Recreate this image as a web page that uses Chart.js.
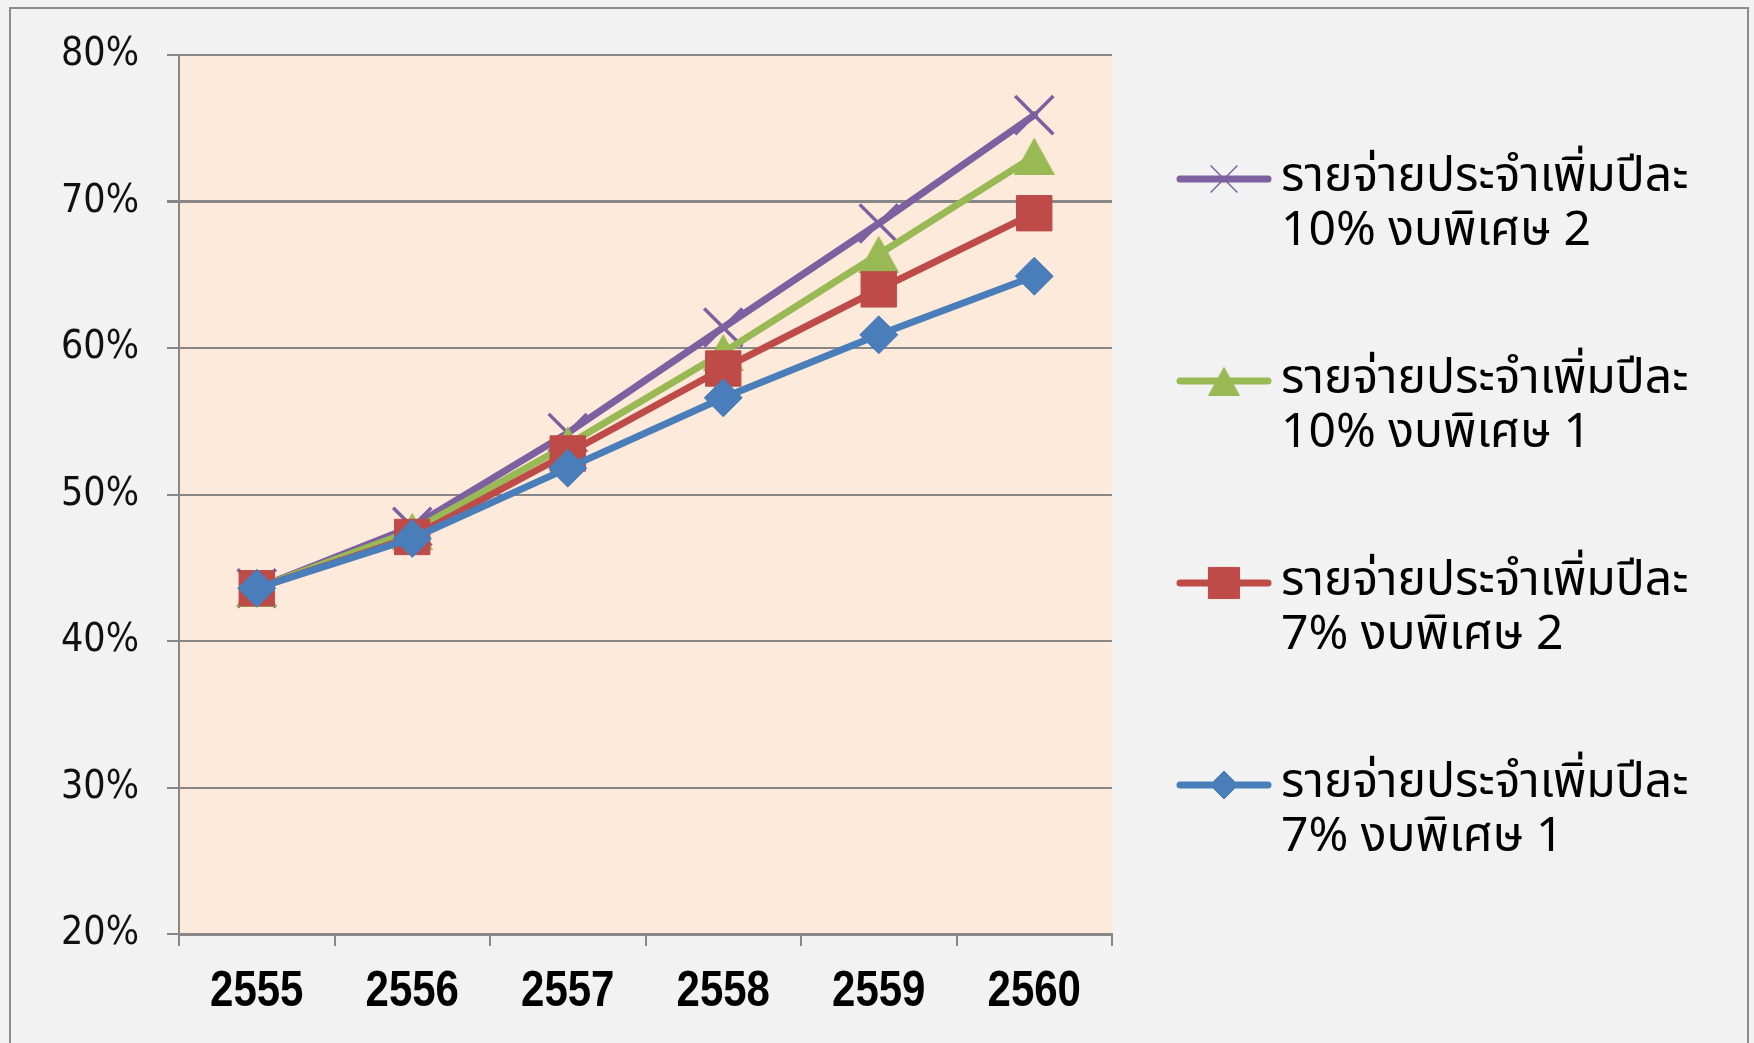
<!DOCTYPE html>
<html>
<head>
<meta charset="utf-8">
<script src="https://cdn.jsdelivr.net/npm/chart.js@4.4.1/dist/chart.umd.min.js"></script>
<style>
  html, body { margin: 0; padding: 0; background: #f2f2f2; overflow: hidden; }
  #wrap { width: 1754px; height: 1043px; }
</style>
</head>
<body>
<div id="wrap"><canvas id="c" width="1754" height="1043"></canvas></div>
<script>
// Fiscal years (Thai Buddhist era)
const years = ['2555', '2556', '2557', '2558', '2559', '2560'];
// Y axis range and step (percent)
const yMin = 20;
const yMax = 80;
const yStep = 10;

// Share of regular expenditure (%) under four scenarios
const rise7Budget1 = [43.6, 47.0, 51.8, 56.6, 60.9, 64.9];
const rise7Budget2 = [43.6, 47.1, 52.8, 58.6, 64.0, 69.2];
const rise10Budget1 = [43.6, 47.5, 53.4, 59.7, 66.4, 73.1];
const rise10Budget2 = [43.6, 47.8, 54.2, 61.4, 68.5, 75.9];

// Legend text, two lines per scenario
const name7Budget1 = ['รายจ่ายประจำเพิ่มปีละ', '7% งบพิเศษ 1'];
const name7Budget2 = ['รายจ่ายประจำเพิ่มปีละ', '7% งบพิเศษ 2'];
const name10Budget1 = ['รายจ่ายประจำเพิ่มปีละ', '10% งบพิเศษ 1'];
const name10Budget2 = ['รายจ่ายประจำเพิ่มปีละ', '10% งบพิเศษ 2'];

const GRID = '#878787';
const PLOT_BG = '#fdeadb';
const THAI_FONT = "Tahoma, 'Noto Sans Thai', 'Noto Sans', 'DejaVu Sans', sans-serif";
const C_BLUE = '#4a7ebb', C_RED = '#be4b48', C_GREEN = '#98b954', C_PURPLE = '#7d60a0';

// Triangle marker centred on its bounding box (apex up)
function triangleMarker(w, h, color) {
  const cv = document.createElement('canvas');
  cv.width = w; cv.height = h;
  const g = cv.getContext('2d');
  g.fillStyle = color;
  g.beginPath();
  g.moveTo(w / 2, 0);
  g.lineTo(w, h);
  g.lineTo(0, h);
  g.closePath();
  g.fill();
  return cv;
}
const triBig = triangleMarker(41, 37, C_GREEN);
const triSmall = triangleMarker(32, 29, C_GREEN);

// Page background, outer frame and plot-area fill
const backdrop = {
  id: 'backdrop',
  beforeDraw(chart) {
    const { ctx, chartArea: a } = chart;
    ctx.save();
    ctx.fillStyle = '#f2f2f2';
    ctx.fillRect(0, 0, chart.width, chart.height);
    ctx.strokeStyle = '#8c8c8c';
    ctx.lineWidth = 2;
    ctx.strokeRect(10, 8, 1738, 1060);
    ctx.fillStyle = PLOT_BG;
    ctx.fillRect(a.left, a.top, a.right - a.left, a.bottom - a.top);
    ctx.restore();
  }
};

// Year labels under the category axis, in a narrow bold face
const yearLabels = {
  id: 'yearLabels',
  afterDraw(chart) {
    const ctx = chart.ctx;
    const xs = chart.scales.x;
    ctx.save();
    ctx.fillStyle = '#000';
    ctx.font = "bold 50px 'Liberation Sans', Arial, sans-serif";
    ctx.textAlign = 'center';
    ctx.textBaseline = 'middle';
    xs.ticks.forEach((t, i) => {
      const x = xs.getPixelForTick(i);
      ctx.save();
      ctx.translate(x, 992);
      ctx.scale(0.84, 1);
      ctx.fillText(xs.getLabelForValue(t.value), 0, 0);
      ctx.restore();
    });
    ctx.restore();
  }
};

// Legend on the right: line + marker sample, label wrapped on two lines
const sideLegend = {
  id: 'sideLegend',
  afterDraw(chart) {
    const ctx = chart.ctx;
    const order = [3, 2, 1, 0];
    const legendRadius = [14, 22, 19, 19];
    ctx.save();
    order.forEach((di, k) => {
      const ds = chart.data.datasets[di];
      const y = 179 + k * 202;
      ctx.strokeStyle = ds.borderColor;
      ctx.lineWidth = 7;
      ctx.lineCap = 'round';
      ctx.beginPath();
      ctx.moveTo(1180, y);
      ctx.lineTo(1268, y);
      ctx.stroke();
      ctx.lineCap = 'butt';
      if (ds.pointStyle === triBig) {
        ctx.drawImage(triSmall, 1224 - triSmall.width / 2, y - triSmall.height / 2);
      } else {
        const bw = ds.pointStyle === 'crossRot' ? 1.5 : 1;
        ctx.fillStyle = ds.pointBackgroundColor;
        ctx.strokeStyle = ds.pointBorderColor;
        ctx.lineWidth = bw;
        Chart.helpers.drawPoint(ctx, {
          pointStyle: ds.pointStyle,
          radius: legendRadius[di],
          rotation: 0,
          borderWidth: bw
        }, 1224, y);
      }
      ctx.fillStyle = '#000';
      ctx.font = 'normal 48px ' + THAI_FONT;
      ctx.textBaseline = 'middle';
      ctx.textAlign = 'left';
      ctx.fillText(ds.label[0], 1281, y + 2);
      ctx.fillText(ds.label[1], 1281, y + 56);
    });
    ctx.restore();
  }
};

const lineStyle = (label, data, color, style, radius, pbw) => ({
  label, data,
  borderColor: color,
  backgroundColor: color,
  pointBackgroundColor: color,
  pointBorderColor: color,
  pointStyle: style,
  pointRadius: radius,
  pointBorderWidth: pbw,
  borderWidth: 7,
  tension: 0,
  borderCapStyle: 'round',
  borderJoinStyle: 'round'
});

new Chart(document.getElementById('c'), {
  type: 'line',
  data: {
    labels: years,
    datasets: [
      lineStyle(name7Budget1, rise7Budget1, C_BLUE, 'rectRot', 19, 1),
      lineStyle(name7Budget2, rise7Budget2, C_RED, 'rect', 25, 1),
      lineStyle(name10Budget1, rise10Budget1, C_GREEN, triBig, 20, 0),
      lineStyle(name10Budget2, rise10Budget2, C_PURPLE, 'crossRot', 27, 3.5)
    ]
  },
  options: {
    responsive: false,
    animation: false,
    devicePixelRatio: 1,
    events: [],
    layout: { padding: { left: 0, top: 55, right: 642, bottom: 0 } },
    plugins: { legend: { display: false }, tooltip: { enabled: false } },
    scales: {
      x: {
        offset: true,
        grid: {
          offset: true,
          drawOnChartArea: false,
          drawTicks: true,
          tickLength: 12,
          color: GRID,
          lineWidth: 2
        },
        border: { display: true, color: GRID, width: 3 },
        ticks: { display: false },
        afterFit(scale) { scale.height = 109; }
      },
      y: {
        min: yMin,
        max: yMax,
        grid: {
          color: GRID,
          lineWidth: ctx => (ctx.tick && ctx.tick.value === 70) ? 3 : 2,
          tickLength: 12
        },
        border: { display: true, color: GRID, width: 2 },
        ticks: {
          stepSize: yStep,
          color: '#111',
          padding: 28,
          callback: v => v + '%',
          font: { family: "'DejaVu Sans Condensed', 'DejaVu Sans', sans-serif", size: 39 }
        },
        afterFit(scale) { scale.width = 179; }
      }
    }
  },
  plugins: [backdrop, yearLabels, sideLegend]
});
</script>
</body>
</html>
